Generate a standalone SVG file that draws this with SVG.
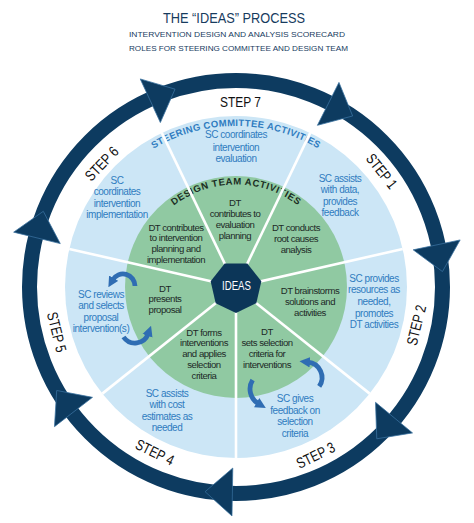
<svg xmlns="http://www.w3.org/2000/svg" width="474" height="523" viewBox="0 0 474 523">
<style>
.ttl{font-family:"Liberation Sans",Arial,sans-serif;fill:#173b5e;text-anchor:middle}
.step{font-family:"Liberation Sans",Arial,sans-serif;font-size:15px;fill:#111;text-anchor:middle}
.sc{font-family:"Liberation Sans",Arial,sans-serif;font-size:10px;letter-spacing:-0.45px;fill:#2f7cc0;text-anchor:middle}
.dt{font-family:"Liberation Sans",Arial,sans-serif;font-size:9.6px;letter-spacing:-0.5px;fill:#1d2a27;text-anchor:middle}
.arc{font-family:"Liberation Sans",Arial,sans-serif;font-size:9.5px;font-weight:bold}
.div{stroke:#fff;stroke-width:2.6}
.cyc{fill:none;stroke:#2f6db3;stroke-width:4.8;marker-end:url(#cah)}
</style>
<defs>
<polygon id="rah" points="232.0,516.0 232.8,468.0 205.1,491.7" fill="#0d3b60" stroke="#3a72a0" stroke-width="0.7"/>
<line id="dv" class="div" x1="236" y1="287" x2="236" y2="458"/>
<marker id="cah" viewBox="0 0 10 10" refX="2" refY="5" markerWidth="2.2" markerHeight="2.3" orient="auto">
<path d="M0,0 L10,5 L0,10 z" fill="#2f6db3"/>
</marker>
<path id="scp" d="M 75 287 A 161 161 0 0 1 397 287"/>
<path id="dtp" d="M 133.5 287 A 102.5 102.5 0 0 1 338.5 287"/>
</defs>
<rect width="474" height="523" fill="#fff"/>
<g id="title">
<text class="ttl" x="234" y="23" font-size="14.5" textLength="142" lengthAdjust="spacingAndGlyphs">THE “IDEAS” PROCESS</text>
<text class="ttl" x="237" y="37.3" font-size="7.8" textLength="216" lengthAdjust="spacingAndGlyphs">INTERVENTION DESIGN AND ANALYSIS SCORECARD</text>
<text class="ttl" x="238.5" y="51" font-size="7.8" textLength="219" lengthAdjust="spacingAndGlyphs">ROLES FOR STEERING COMMITTEE AND DESIGN TEAM</text>
</g>
<g id="ring">
<circle cx="236" cy="287" r="206.5" fill="none" stroke="#0d3b60" stroke-width="15"/>
<use href="#rah"/>
<use href="#rah" transform="rotate(51.4286 236 287)"/>
<use href="#rah" transform="rotate(102.8571 236 287)"/>
<use href="#rah" transform="rotate(154.2857 236 287)"/>
<use href="#rah" transform="rotate(205.7143 236 287)"/>
<use href="#rah" transform="rotate(257.1429 236 287)"/>
<use href="#rah" transform="rotate(308.5714 236 287)"/>
</g>
<g id="sc-disk">
<circle cx="236" cy="287" r="171" fill="#cce6f6"/>
<text class="arc" fill="#2f7cc0" letter-spacing="0.35"><textPath href="#scp" startOffset="50%" text-anchor="middle">STEERING COMMITTEE ACTIVITIES</textPath></text>
</g>
<g id="dt-disk">
<circle cx="236" cy="287" r="111" fill="#90c9a2"/>
<text class="arc" fill="#1b2e22" letter-spacing="0.6"><textPath href="#dtp" startOffset="50%" text-anchor="middle">DESIGN TEAM ACTIVITIES</textPath></text>
</g>
<g id="dividers">
<use href="#dv"/>
<use href="#dv" transform="rotate(51.4286 236 287)"/>
<use href="#dv" transform="rotate(102.8571 236 287)"/>
<use href="#dv" transform="rotate(154.2857 236 287)"/>
<use href="#dv" transform="rotate(205.7143 236 287)"/>
<use href="#dv" transform="rotate(257.1429 236 287)"/>
<use href="#dv" transform="rotate(308.5714 236 287)"/>
</g>
<g id="center">
<polygon points="236,313 215.67,303.21 210.65,281.21 224.72,263.57 247.28,263.57 261.35,281.21 256.33,303.21" fill="#0c3658"/>
<text x="236.5" y="289.5" font-family="Liberation Sans,Arial,sans-serif" font-size="12.5" fill="#fff" text-anchor="middle" textLength="29" lengthAdjust="spacingAndGlyphs">IDEAS</text>
</g>
<g id="steps">
<text class="step" transform="translate(240.5 101.6)" y="5.5" textLength="41" lengthAdjust="spacingAndGlyphs">STEP 7</text>
<text class="step" transform="translate(382 171) rotate(51.5)" y="5.5" textLength="40" lengthAdjust="spacingAndGlyphs">STEP 1</text>
<text class="step" transform="translate(416 325) rotate(-76)" y="5.5" textLength="41" lengthAdjust="spacingAndGlyphs">STEP 2</text>
<text class="step" transform="translate(315.5 455) rotate(-26)" y="5.5" textLength="41" lengthAdjust="spacingAndGlyphs">STEP 3</text>
<text class="step" transform="translate(155 452) rotate(26)" y="5.5" textLength="41" lengthAdjust="spacingAndGlyphs">STEP 4</text>
<text class="step" transform="translate(57 332) rotate(76)" y="5.5" textLength="41" lengthAdjust="spacingAndGlyphs">STEP 5</text>
<text class="step" transform="translate(101.5 163.5) rotate(-46)" y="5.5" textLength="41" lengthAdjust="spacingAndGlyphs">STEP 6</text>
</g>
<g id="sc-labels">
<text class="sc"><tspan x="236" y="138">SC coordinates</tspan><tspan x="236" y="150.5">intervention</tspan><tspan x="236" y="162">evaluation</tspan></text>
<text class="sc"><tspan x="340" y="181.5">SC assists</tspan><tspan x="340" y="193">with data,</tspan><tspan x="340" y="204.5">provides</tspan><tspan x="340" y="216">feedback</tspan></text>
<text class="sc"><tspan x="374" y="281.5">SC provides</tspan><tspan x="374" y="293.3">resources as</tspan><tspan x="374" y="305">needed,</tspan><tspan x="374" y="316.5">promotes</tspan><tspan x="374" y="328">DT activities</tspan></text>
<text class="sc"><tspan x="295" y="402">SC gives</tspan><tspan x="295" y="413.5">feedback on</tspan><tspan x="295" y="425">selection</tspan><tspan x="295" y="436.5">criteria</tspan></text>
<text class="sc"><tspan x="167" y="396.5">SC assists</tspan><tspan x="167" y="408">with cost</tspan><tspan x="167" y="419.5">estimates as</tspan><tspan x="167" y="431">needed</tspan></text>
<text class="sc"><tspan x="101" y="297.5">SC reviews</tspan><tspan x="101" y="309">and selects</tspan><tspan x="101" y="320.5">proposal</tspan><tspan x="101" y="332">intervention(s)</tspan></text>
<text class="sc"><tspan x="117" y="183.5">SC</tspan><tspan x="117" y="195">coordinates</tspan><tspan x="117" y="206.5">intervention</tspan><tspan x="117" y="218">implementation</tspan></text>
</g>
<g id="dt-labels">
<text class="dt"><tspan x="235" y="205.5">DT</tspan><tspan x="235" y="216.5">contributes to</tspan><tspan x="235" y="227.5">evaluation</tspan><tspan x="235" y="238.5">planning</tspan></text>
<text class="dt"><tspan x="296" y="230.5">DT conducts</tspan><tspan x="296" y="241.5">root causes</tspan><tspan x="296" y="252.5">analysis</tspan></text>
<text class="dt"><tspan x="310" y="293.5">DT brainstorms</tspan><tspan x="310" y="304.5">solutions and</tspan><tspan x="310" y="315.5">activities</tspan></text>
<text class="dt"><tspan x="267" y="334.5">DT</tspan><tspan x="267" y="345.5">sets selection</tspan><tspan x="267" y="356.5">criteria for</tspan><tspan x="267" y="367.5">interventions</tspan></text>
<text class="dt"><tspan x="204" y="335.5">DT forms</tspan><tspan x="204" y="346.2">interventions</tspan><tspan x="204" y="357">and applies</tspan><tspan x="204" y="367.7">selection</tspan><tspan x="204" y="378.5">criteria</tspan></text>
<text class="dt"><tspan x="165" y="291.5">DT</tspan><tspan x="165" y="302.3">presents</tspan><tspan x="165" y="313">proposal</tspan></text>
<text class="dt"><tspan x="176" y="230.5">DT contributes</tspan><tspan x="176" y="241.2">to intervention</tspan><tspan x="176" y="252">planning and</tspan><tspan x="176" y="262.7">implementation</tspan></text>
</g>
<g id="cycle-arrows">
<path class="cyc" d="M 135 286 A 12 12 0 0 0 112.6 280"/>
<path class="cyc" d="M 123.5 337 A 14 14 0 0 0 148.2 333.8"/>
<path class="cyc" d="M 319.2 386.4 A 15.5 15.5 0 0 0 307.9 362.1"/>
<path class="cyc" d="M 252.6 380 A 17 17 0 0 0 258.5 403.7"/>
</g>
</svg>
